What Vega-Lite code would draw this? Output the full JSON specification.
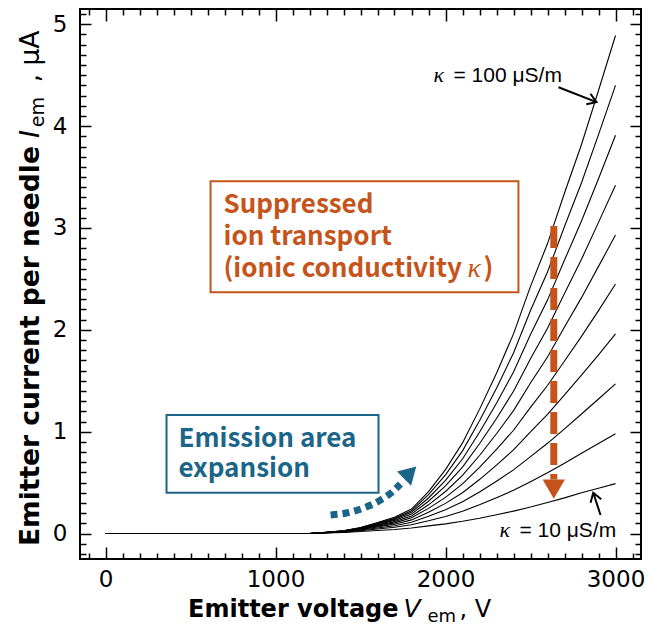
{
  "$schema": "https://vega.github.io/schema/vega-lite/v6.json",
  "width": 561,
  "height": 550,
  "autosize": {"type": "none"},
  "padding": {"left": 80, "top": 9, "right": 8, "bottom": 73},
  "background": "white",
  "config": {
    "view": {"stroke": "#000", "strokeWidth": 2},
    "axis": {"domain": false, "grid": false, "tickColor": "#000", "tickWidth": 1.5, "labelColor": "#000", "labelFont": "DejaVu Sans", "labelFontSize": 23, "labelOverlap": false, "labelFlush": false, "labelBound": false}
  },
  "datasets": {
    "curves": [
      {"V": 0, "k10": 0, "k20": 0, "k30": 0, "k40": 0, "k50": 0, "k60": 0, "k70": 0, "k80": 0, "k90": 0, "k100": 0},
      {"V": 1200, "k10": 0, "k20": 0, "k30": 0, "k40": 0, "k50": 0, "k60": 0, "k70": 0, "k80": 0, "k90": 0, "k100": 0},
      {"V": 1300, "k10": 0.005, "k20": 0.007, "k30": 0.008, "k40": 0.009, "k50": 0.010, "k60": 0.010, "k70": 0.011, "k80": 0.012, "k90": 0.012, "k100": 0.013},
      {"V": 1400, "k10": 0.010, "k20": 0.014, "k30": 0.016, "k40": 0.019, "k50": 0.021, "k60": 0.022, "k70": 0.024, "k80": 0.026, "k90": 0.027, "k100": 0.028},
      {"V": 1500, "k10": 0.020, "k20": 0.028, "k30": 0.034, "k40": 0.039, "k50": 0.043, "k60": 0.047, "k70": 0.051, "k80": 0.054, "k90": 0.057, "k100": 0.060},
      {"V": 1600, "k10": 0.030, "k20": 0.044, "k30": 0.055, "k40": 0.064, "k50": 0.073, "k60": 0.080, "k70": 0.087, "k80": 0.094, "k90": 0.100, "k100": 0.107},
      {"V": 1700, "k10": 0.040, "k20": 0.061, "k30": 0.077, "k40": 0.092, "k50": 0.105, "k60": 0.117, "k70": 0.129, "k80": 0.139, "k90": 0.149, "k100": 0.159},
      {"V": 1800, "k10": 0.055, "k20": 0.086, "k30": 0.111, "k40": 0.134, "k50": 0.154, "k60": 0.173, "k70": 0.191, "k80": 0.208, "k90": 0.224, "k100": 0.240},
      {"V": 1900, "k10": 0.075, "k20": 0.125, "k30": 0.169, "k40": 0.209, "k50": 0.247, "k60": 0.282, "k70": 0.317, "k80": 0.349, "k90": 0.381, "k100": 0.412},
      {"V": 2000, "k10": 0.095, "k20": 0.168, "k30": 0.234, "k40": 0.296, "k50": 0.355, "k60": 0.413, "k70": 0.468, "k80": 0.523, "k90": 0.576, "k100": 0.628},
      {"V": 2100, "k10": 0.120, "k20": 0.219, "k30": 0.312, "k40": 0.401, "k50": 0.487, "k60": 0.570, "k70": 0.652, "k80": 0.732, "k90": 0.812, "k100": 0.890},
      {"V": 2200, "k10": 0.150, "k20": 0.282, "k30": 0.408, "k40": 0.530, "k50": 0.649, "k60": 0.766, "k70": 0.881, "k80": 0.995, "k90": 1.107, "k100": 1.219},
      {"V": 2300, "k10": 0.185, "k20": 0.352, "k30": 0.514, "k40": 0.672, "k50": 0.826, "k60": 0.980, "k70": 1.130, "k80": 1.279, "k90": 1.427, "k100": 1.574},
      {"V": 2400, "k10": 0.220, "k20": 0.425, "k30": 0.625, "k40": 0.821, "k50": 1.014, "k60": 1.207, "k70": 1.397, "k80": 1.586, "k90": 1.773, "k100": 1.960},
      {"V": 2500, "k10": 0.260, "k20": 0.509, "k30": 0.755, "k40": 0.997, "k50": 1.238, "k60": 1.478, "k70": 1.717, "k80": 1.954, "k90": 2.189, "k100": 2.427},
      {"V": 2600, "k10": 0.305, "k20": 0.597, "k30": 0.886, "k40": 1.170, "k50": 1.453, "k60": 1.734, "k70": 2.015, "k80": 2.292, "k90": 2.568, "k100": 2.847},
      {"V": 2700, "k10": 0.350, "k20": 0.690, "k30": 1.028, "k40": 1.362, "k50": 1.694, "k60": 2.027, "k70": 2.357, "k80": 2.685, "k90": 3.014, "k100": 3.343},
      {"V": 2800, "k10": 0.400, "k20": 0.789, "k30": 1.174, "k40": 1.556, "k50": 1.936, "k60": 2.316, "k70": 2.693, "k80": 3.068, "k90": 3.444, "k100": 3.820},
      {"V": 2900, "k10": 0.445, "k20": 0.884, "k30": 1.321, "k40": 1.755, "k50": 2.189, "k60": 2.623, "k70": 3.055, "k80": 3.484, "k90": 3.916, "k100": 4.350},
      {"V": 3000, "k10": 0.490, "k20": 0.980, "k30": 1.470, "k40": 1.960, "k50": 2.450, "k60": 2.930, "k70": 3.420, "k80": 3.910, "k90": 4.400, "k100": 4.890}
    ],
    "boxes": [
      {"name": "supp", "V": 618, "V2": 2429, "I": 3.459, "I2": 2.370},
      {"name": "emis", "V": 359, "V2": 1606, "I": 1.163, "I2": 0.400}
    ]
  },
  "layer": [
    {
      "data": {"name": "curves"},
      "transform": [{"fold": ["k10", "k20", "k30", "k40", "k50", "k60", "k70", "k80", "k90", "k100"], "as": ["kappa", "I"]}],
      "mark": {"type": "line", "color": "#000", "strokeWidth": 1.1},
      "encoding": {
        "x": {"field": "V", "type": "quantitative", "scale": {"domain": [-150, 3150], "nice": false, "zero": false},
          "axis": {"orient": "bottom", "title": null, "format": "d", "labelOverlap": false,
            "values": [-100,0,100,200,300,400,500,600,700,800,900,1000,1100,1200,1300,1400,1500,1600,1700,1800,1900,2000,2100,2200,2300,2400,2500,2600,2700,2800,2900,3000,3100],
            "labelExpr": "datum.value % 1000 === 0 ? datum.label : ''",
            "tickSize": {"condition": {"test": "datum.value % 1000 === 0", "value": -12}, "value": -6},
            "labelPadding": 21}},
        "y": {"field": "I", "type": "quantitative", "scale": {"domain": [-0.25, 5.15], "nice": false, "zero": false},
          "axis": {"orient": "left", "title": null, "labelOverlap": false,
            "values": [-0.2,-0.1,0,0.1,0.2,0.3,0.4,0.5,0.6,0.7,0.8,0.9,1,1.1,1.2,1.3,1.4,1.5,1.6,1.7,1.8,1.9,2,2.1,2.2,2.3,2.4,2.5,2.6,2.7,2.8,2.9,3,3.1,3.2,3.3,3.4,3.5,3.6,3.7,3.8,3.9,4,4.1,4.2,4.3,4.4,4.5,4.6,4.7,4.8,4.9,5,5.1],
            "labelExpr": "abs(datum.value - round(datum.value)) < 0.001 ? format(datum.value, 'd') : ''",
            "labelFontSize": {"condition": {"test": "abs(datum.value - round(datum.value)) < 0.001", "value": 23}, "value": 1},
            "tickSize": {"condition": {"test": "abs(datum.value - round(datum.value)) < 0.001", "value": -11}, "value": -6},
            "labelPadding": 24}},
        "detail": {"field": "kappa"}
      }
    },
    {
      "data": {"name": "curves"},
      "transform": [{"fold": ["k10", "k100"], "as": ["kappa", "I"]}],
      "mark": {"type": "line", "color": "#000", "strokeOpacity": 0},
      "encoding": {
        "x": {"field": "V", "type": "quantitative", "scale": {"domain": [-150, 3150], "nice": false, "zero": false},
          "axis": {"orient": "top", "title": null, "labels": false,
            "values": [-100,0,100,200,300,400,500,600,700,800,900,1000,1100,1200,1300,1400,1500,1600,1700,1800,1900,2000,2100,2200,2300,2400,2500,2600,2700,2800,2900,3000,3100],
            "tickSize": {"condition": {"test": "datum.value % 1000 === 0", "value": -12}, "value": -6}}},
        "y": {"field": "I", "type": "quantitative", "scale": {"domain": [-0.25, 5.15], "nice": false, "zero": false},
          "axis": {"orient": "right", "title": null, "labels": false,
            "values": [-0.2,-0.1,0,0.1,0.2,0.3,0.4,0.5,0.6,0.7,0.8,0.9,1,1.1,1.2,1.3,1.4,1.5,1.6,1.7,1.8,1.9,2,2.1,2.2,2.3,2.4,2.5,2.6,2.7,2.8,2.9,3,3.1,3.2,3.3,3.4,3.5,3.6,3.7,3.8,3.9,4,4.1,4.2,4.3,4.4,4.5,4.6,4.7,4.8,4.9,5,5.1],
            "tickSize": {"condition": {"test": "abs(datum.value - round(datum.value)) < 0.001", "value": -11}, "value": -6}}},
        "detail": {"field": "kappa"}
      }
    },
    {
      "data": {"name": "boxes"},
      "mark": {"type": "rect", "filled": false, "strokeWidth": 2},
      "encoding": {
        "x": {"field": "V", "type": "quantitative", "axis": null},
        "x2": {"field": "V2"},
        "y": {"field": "I", "type": "quantitative", "axis": null},
        "y2": {"field": "I2"},
        "stroke": {"field": "name", "type": "nominal", "scale": {"domain": ["supp", "emis"], "range": ["#C5541B", "#1B6688"]}, "legend": null}
      }
    },
    {
      "data": {"values": [{"V": 694, "I": 3.145, "t": "Suppressed"}, {"V": 694, "I": 2.831, "t": "ion transport"}, {"V": 694, "I": 2.517, "t": "(ionic conductivity"}]},
      "mark": {"type": "text", "align": "left", "baseline": "alphabetic", "font": "Noto Sans CJK JP", "fontWeight": "bold", "fontSize": 26, "color": "#C5541B"},
      "encoding": {"x": {"field": "V", "type": "quantitative", "axis": null}, "y": {"field": "I", "type": "quantitative", "axis": null}, "text": {"field": "t"}}
    },
    {
      "data": {"values": [{"V": 2130, "I": 2.517, "t": "κ"}]},
      "mark": {"type": "text", "align": "left", "baseline": "alphabetic", "font": "Liberation Serif", "fontStyle": "italic", "fontSize": 28, "color": "#C5541B"},
      "encoding": {"x": {"field": "V", "type": "quantitative", "axis": null}, "y": {"field": "I", "type": "quantitative", "axis": null}, "text": {"field": "t"}}
    },
    {
      "data": {"values": [{"V": 2224, "I": 2.517, "t": ")"}]},
      "mark": {"type": "text", "align": "left", "baseline": "alphabetic", "font": "Noto Sans CJK JP", "fontWeight": "bold", "fontSize": 26, "color": "#C5541B"},
      "encoding": {"x": {"field": "V", "type": "quantitative", "axis": null}, "y": {"field": "I", "type": "quantitative", "axis": null}, "text": {"field": "t"}}
    },
    {
      "data": {"values": [{"V": 429, "I": 0.852, "t": "Emission area"}, {"V": 429, "I": 0.552, "t": "expansion"}]},
      "mark": {"type": "text", "align": "left", "baseline": "alphabetic", "font": "Noto Sans CJK JP", "fontWeight": "bold", "fontSize": 26, "color": "#1B6688"},
      "encoding": {"x": {"field": "V", "type": "quantitative", "axis": null}, "y": {"field": "I", "type": "quantitative", "axis": null}, "text": {"field": "t"}}
    },
    {
      "data": {"values": [{"V": 2637, "I": 3.02, "o": 1}, {"V": 2637, "I": 0.53, "o": 2}]},
      "mark": {"type": "line", "color": "#C5541B", "strokeWidth": 7, "strokeDash": [22, 9], "strokeCap": "butt"},
      "encoding": {"x": {"field": "V", "type": "quantitative", "axis": null}, "y": {"field": "I", "type": "quantitative", "axis": null}, "order": {"field": "o"}}
    },
    {
      "data": {"values": [{"V": 2637, "I": 0.436}]},
      "mark": {"type": "point", "shape": "triangle-down", "filled": true, "color": "#C5541B", "size": 500, "opacity": 1},
      "encoding": {"x": {"field": "V", "type": "quantitative", "axis": null}, "y": {"field": "I", "type": "quantitative", "axis": null}}
    },
    {
      "data": {"values": [{"V": 1324, "I": 0.182}, {"V": 1424, "I": 0.204}, {"V": 1518, "I": 0.250}, {"V": 1618, "I": 0.329}, {"V": 1688, "I": 0.410}, {"V": 1735, "I": 0.486}]},
      "mark": {"type": "line", "color": "#1B6688", "strokeWidth": 7, "strokeDash": [7, 5], "strokeCap": "butt", "interpolate": "monotone"},
      "encoding": {"x": {"field": "V", "type": "quantitative", "axis": null}, "y": {"field": "I", "type": "quantitative", "axis": null}}
    },
    {
      "data": {"values": [{"V": 1792, "I": 0.599}]},
      "mark": {"type": "point", "shape": "triangle-up", "filled": true, "color": "#1B6688", "size": 400, "angle": 45, "opacity": 1},
      "encoding": {"x": {"field": "V", "type": "quantitative", "axis": null}, "y": {"field": "I", "type": "quantitative", "axis": null}}
    },
    {
      "data": {"values": [{"id": "a", "V": 2665, "I": 4.382}, {"id": "a", "V": 2888, "I": 4.235}, {"id": "b", "V": 2912, "I": 0.182}, {"id": "b", "V": 2869, "I": 0.400}]},
      "mark": {"type": "line", "color": "#000", "strokeWidth": 2},
      "encoding": {"x": {"field": "V", "type": "quantitative", "axis": null}, "y": {"field": "I", "type": "quantitative", "axis": null}, "detail": {"field": "id"}}
    },
    {
      "data": {"values": [{"V": 2888, "I": 4.235}]},
      "mark": {"type": "point", "shape": "M -1 -0.65 L 0 0 L -1 0.65", "filled": false, "stroke": "#000", "strokeWidth": 2, "size": 300, "angle": 21.5, "opacity": 1},
      "encoding": {"x": {"field": "V", "type": "quantitative", "axis": null}, "y": {"field": "I", "type": "quantitative", "axis": null}}
    },
    {
      "data": {"values": [{"V": 2869, "I": 0.400}]},
      "mark": {"type": "point", "shape": "M -1 -0.65 L 0 0 L -1 0.65", "filled": false, "stroke": "#000", "strokeWidth": 2, "size": 300, "angle": 252, "opacity": 1},
      "encoding": {"x": {"field": "V", "type": "quantitative", "axis": null}, "y": {"field": "I", "type": "quantitative", "axis": null}}
    },
    {
      "data": {"values": [{"V": 1929, "I": 4.431}, {"V": 2318, "I": -0.034}]},
      "mark": {"type": "text", "text": "κ", "align": "left", "baseline": "alphabetic", "font": "Liberation Serif", "fontStyle": "italic", "fontSize": 22, "color": "#000"},
      "encoding": {"x": {"field": "V", "type": "quantitative", "axis": null}, "y": {"field": "I", "type": "quantitative", "axis": null}}
    },
    {
      "data": {"values": [{"V": 2047, "I": 4.431, "t": "= 100 μS/m"}, {"V": 2435, "I": -0.034, "t": "= 10 μS/m"}]},
      "mark": {"type": "text", "align": "left", "baseline": "alphabetic", "font": "Liberation Sans", "fontSize": 21, "color": "#000"},
      "encoding": {"x": {"field": "V", "type": "quantitative", "axis": null}, "y": {"field": "I", "type": "quantitative", "axis": null}, "text": {"field": "t"}}
    },
    {
      "data": {"values": [{"V": 1724, "I": -0.819, "t": "Emitter voltage"}]},
      "mark": {"type": "text", "align": "right", "baseline": "alphabetic", "font": "DejaVu Sans", "fontWeight": "bold", "fontSize": 24, "color": "#000"},
      "encoding": {"x": {"field": "V", "type": "quantitative", "axis": null}, "y": {"field": "I", "type": "quantitative", "axis": null}, "text": {"field": "t"}}
    },
    {
      "data": {"values": [{"V": 1753, "I": -0.819, "t": "V"}]},
      "mark": {"type": "text", "align": "left", "baseline": "alphabetic", "font": "DejaVu Sans", "fontStyle": "italic", "fontSize": 25, "color": "#000"},
      "encoding": {"x": {"field": "V", "type": "quantitative", "axis": null}, "y": {"field": "I", "type": "quantitative", "axis": null}, "text": {"field": "t"}}
    },
    {
      "data": {"values": [{"V": 1894, "I": -0.868, "t": "em"}]},
      "mark": {"type": "text", "align": "left", "baseline": "alphabetic", "font": "DejaVu Sans", "fontSize": 18, "color": "#000"},
      "encoding": {"x": {"field": "V", "type": "quantitative", "axis": null}, "y": {"field": "I", "type": "quantitative", "axis": null}, "text": {"field": "t"}}
    },
    {
      "data": {"values": [{"V": 2082, "I": -0.819, "t": ", V"}]},
      "mark": {"type": "text", "align": "left", "baseline": "alphabetic", "font": "DejaVu Sans", "fontSize": 24, "color": "#000"},
      "encoding": {"x": {"field": "V", "type": "quantitative", "axis": null}, "y": {"field": "I", "type": "quantitative", "axis": null}, "text": {"field": "t"}}
    },
    {
      "data": {"values": [{"V": -394, "I": -0.123, "t": "Emitter current per needle"}]},
      "mark": {"type": "text", "align": "left", "baseline": "alphabetic", "angle": 270, "font": "DejaVu Sans", "fontWeight": "bold", "fontSize": 26.5, "color": "#000"},
      "encoding": {"x": {"field": "V", "type": "quantitative", "axis": null}, "y": {"field": "I", "type": "quantitative", "axis": null}, "text": {"field": "t"}}
    },
    {
      "data": {"values": [{"V": -394, "I": 3.883, "t": "I"}]},
      "mark": {"type": "text", "align": "left", "baseline": "alphabetic", "angle": 270, "font": "DejaVu Sans", "fontStyle": "italic", "fontSize": 27, "color": "#000"},
      "encoding": {"x": {"field": "V", "type": "quantitative", "axis": null}, "y": {"field": "I", "type": "quantitative", "axis": null}, "text": {"field": "t"}}
    },
    {
      "data": {"values": [{"V": -359, "I": 3.99, "t": "em"}]},
      "mark": {"type": "text", "align": "left", "baseline": "alphabetic", "angle": 270, "font": "DejaVu Sans", "fontSize": 19, "color": "#000"},
      "encoding": {"x": {"field": "V", "type": "quantitative", "axis": null}, "y": {"field": "I", "type": "quantitative", "axis": null}, "text": {"field": "t"}}
    },
    {
      "data": {"values": [{"V": -394, "I": 4.43, "t": ", μA"}]},
      "mark": {"type": "text", "align": "left", "baseline": "alphabetic", "angle": 270, "font": "DejaVu Sans", "fontSize": 26.5, "color": "#000"},
      "encoding": {"x": {"field": "V", "type": "quantitative", "axis": null}, "y": {"field": "I", "type": "quantitative", "axis": null}, "text": {"field": "t"}}
    }
  ],
  "resolve": {"axis": {"x": "independent", "y": "independent"}}
}
